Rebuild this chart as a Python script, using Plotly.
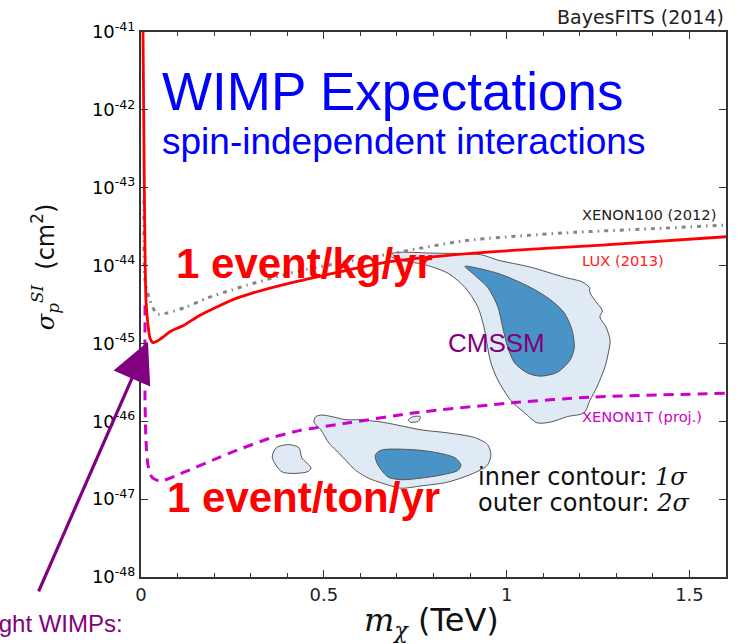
import numpy as np
import plotly.graph_objects as go

# ---- exclusion / projection curves: WIMP mass (TeV) vs log10(sigma_SI / cm^2) ----
lux_mass = [0.0045, 0.0055, 0.0082, 0.0109, 0.0136, 0.019, 0.0245, 0.0326, 0.045, 0.060,
            0.079, 0.120, 0.160, 0.250, 0.300, 0.430, 0.680, 0.860, 1.000, 1.250, 1.600]
lux_log_sigma = [-40.5, -41.0, -42.52, -43.80, -44.44, -44.76, -44.93, -44.99, -44.97, -44.92,
                 -44.85, -44.76, -44.64, -44.44, -44.36, -44.20, -43.95, -43.86, -43.81, -43.74, -43.63]

xenon100_mass = [0.008, 0.011, 0.024, 0.043, 0.071, 0.125, 0.179, 0.250, 0.291, 0.432,
                 0.668, 0.886, 1.158, 1.429, 1.600]
xenon100_log_sigma = [-43.16, -44.19, -44.44, -44.62, -44.61, -44.53, -44.42, -44.31, -44.25, -44.07,
                      -43.86, -43.68, -43.58, -43.52, -43.48]

xenon1t_mass = [0.011, 0.011, 0.0136, 0.019, 0.030, 0.052, 0.125, 0.196, 0.269, 0.351,
                0.432, 0.568, 0.750, 1.022, 1.228, 1.600]
xenon1t_log_sigma = [-44.51, -45.73, -46.24, -46.56, -46.72, -46.77, -46.64, -46.50, -46.36, -46.22,
                     -46.12, -46.02, -45.89, -45.76, -45.69, -45.64]

# ---- CMSSM credible regions (mass in TeV, log10 sigma) ----
upper_2s_mass = [0.677, 0.704, 0.793, 0.929, 0.976, 1.065, 1.158, 1.207, 1.226, 1.228, 1.247,
                 1.262, 1.255, 1.272, 1.283, 1.280, 1.269, 1.247, 1.228, 1.212, 1.166, 1.120,
                 1.084, 1.049, 1.011, 0.976, 0.957, 0.948, 0.940, 0.921, 0.886, 0.840, 0.777,
                 0.700, 0.677]
upper_2s_log_sigma = [-43.86, -43.83, -43.84, -43.86, -43.93, -44.02, -44.15, -44.21, -44.28, -44.35, -44.48,
                      -44.58, -44.66, -44.79, -44.96, -45.08, -45.30, -45.56, -45.73, -45.89, -45.94, -46.01,
                      -46.02, -45.89, -45.73, -45.47, -45.25, -45.05, -44.83, -44.53, -44.28, -44.10, -43.99,
                      -43.92, -43.86]

upper_1s_mass = [0.886, 0.976, 1.065, 1.120, 1.158, 1.179, 1.185, 1.174, 1.139, 1.092, 1.057,
                 1.022, 1.003, 0.989, 0.976, 0.948, 0.902, 0.886]
upper_1s_log_sigma = [-44.01, -44.10, -44.28, -44.44, -44.61, -44.83, -45.05, -45.21, -45.37, -45.42, -45.38,
                      -45.25, -45.05, -44.79, -44.53, -44.28, -44.08, -44.01]

lower_2s_mass = [0.478, 0.473, 0.492, 0.514, 0.533, 0.560, 0.587, 0.622, 0.677, 0.712, 0.766,
                 0.840, 0.913, 0.948, 0.957, 0.948, 0.913, 0.840, 0.766, 0.723, 0.658, 0.595,
                 0.560, 0.522, 0.495, 0.478]
lower_2s_log_sigma = [-45.94, -46.01, -46.11, -46.28, -46.37, -46.50, -46.63, -46.73, -46.82, -46.86, -46.83,
                      -46.78, -46.66, -46.56, -46.43, -46.30, -46.21, -46.15, -46.11, -46.07, -46.01, -45.98,
                      -45.98, -45.94, -45.92, -45.94]

island_2s_mass = [0.359, 0.370, 0.405, 0.432, 0.440, 0.465, 0.454, 0.386, 0.359]
island_2s_log_sigma = [-46.46, -46.34, -46.30, -46.34, -46.47, -46.60, -46.65, -46.65, -46.46]

sliver_2s_mass = [0.731, 0.745, 0.764, 0.758, 0.736, 0.731]
sliver_2s_log_sigma = [-45.98, -45.94, -45.94, -46.00, -46.01, -45.98]

lower_1s_mass = [0.641, 0.658, 0.723, 0.793, 0.859, 0.875, 0.867, 0.821, 0.766, 0.712, 0.677,
                 0.658, 0.644, 0.641]
lower_1s_log_sigma = [-46.43, -46.37, -46.36, -46.39, -46.47, -46.56, -46.63, -46.69, -46.73, -46.75, -46.72,
                      -46.63, -46.52, -46.43]

# ---- axis ticks ----
x_tick_vals = [0, 0.5, 1, 1.5]
x_tick_text = ["0", "0.5", "1", "1.5"]
y_tick_exponents = [-48, -47, -46, -45, -44, -43, -42, -41]

OUTER_FILL = "#dfeaf5"
INNER_FILL = "#4993c6"
EDGE = "#555555"
PURPLE = "#800080"
MAGENTA = "#cc00cc"
AXIS = "#333333"


def sigma(log_values):
    return np.power(10.0, np.asarray(log_values, dtype=float))


fig = go.Figure()

for m, s, fill in [
    (upper_2s_mass, upper_2s_log_sigma, OUTER_FILL),
    (lower_2s_mass, lower_2s_log_sigma, OUTER_FILL),
    (island_2s_mass, island_2s_log_sigma, OUTER_FILL),
    (sliver_2s_mass, sliver_2s_log_sigma, OUTER_FILL),
    (upper_1s_mass, upper_1s_log_sigma, INNER_FILL),
    (lower_1s_mass, lower_1s_log_sigma, INNER_FILL),
]:
    fig.add_trace(go.Scatter(
        x=m, y=sigma(s), mode="lines", fill="toself", fillcolor=fill,
        line=dict(color=EDGE, width=1, shape="spline", smoothing=0.8),
        hoverinfo="skip",
    ))

fig.add_trace(go.Scatter(
    x=xenon100_mass, y=sigma(xenon100_log_sigma), mode="lines",
    line=dict(color="#858585", width=3, dash="4px,5px,1.5px,5px", shape="spline", smoothing=0.6),
    name="XENON100 (2012)",
))
fig.add_trace(go.Scatter(
    x=xenon1t_mass, y=sigma(xenon1t_log_sigma), mode="lines",
    line=dict(color=MAGENTA, width=3, dash="10px,7px", shape="spline", smoothing=0.6),
    name="XENON1T (proj.)",
))
fig.add_trace(go.Scatter(
    x=lux_mass, y=sigma(lux_log_sigma), mode="lines",
    line=dict(color="#ff0000", width=2.8, shape="spline", smoothing=0.6),
    name="LUX (2013)",
))

axis_common = dict(
    showline=True, linecolor=AXIS, linewidth=2, mirror="ticks",
    ticks="inside", ticklen=7, tickwidth=1, tickcolor=AXIS,
    showgrid=False, zeroline=False,
)

fig.update_xaxes(
    range=[0, 1.6], tickmode="array", tickvals=x_tick_vals, ticktext=x_tick_text,
    tickfont=dict(family="DejaVu Sans", size=18, color="#222222"),
    minor=dict(dtick=0.1, ticks="inside", ticklen=4, tickcolor=AXIS, showgrid=False),
    **axis_common,
)
fig.update_yaxes(
    type="log", range=[-48, -41], tickmode="array",
    tickvals=[10.0 ** e for e in y_tick_exponents],
    ticktext=[f"10<sup>{e}</sup>" for e in y_tick_exponents],
    tickfont=dict(family="DejaVu Sans", size=18, color="#000000"),
    **axis_common,
)

# fifth-of-a-decade minor ticks on both vertical edges, via a linear exponent axis
fig.update_layout(yaxis2=dict(
    overlaying="y", anchor="x", side="left", range=[-48, -41], tickmode="linear",
    tick0=-48, dtick=0.2, ticks="inside", ticklen=4, tickwidth=1, tickcolor=AXIS,
    showticklabels=False, showline=False, mirror="ticks", showgrid=False, zeroline=False,
))

text_defaults = dict(xref="paper", yref="paper", showarrow=False,
                     xanchor="left", yanchor="middle")

annotations = [
    dict(text="BayesFITS (2014)", x=1.0, y=1.0, xref="paper", yref="paper", showarrow=False,
         xanchor="right", yanchor="bottom", yshift=2,
         font=dict(family="DejaVu Sans", size=19, color="#222222")),
    dict(text="WIMP Expectations", x=0.0324, y=0.890, **text_defaults,
         font=dict(family="Liberation Sans", size=53, color="#0000ff")),
    dict(text="spin-independent interactions", x=0.0324, y=0.7996, **text_defaults,
         font=dict(family="Liberation Sans", size=37, color="#0000ff")),
    dict(text="<b>1 event/kg/yr</b>", x=0.056, y=0.576, **text_defaults,
         font=dict(family="Liberation Sans", size=42, color="#ff0000")),
    dict(text="<b>1 event/ton/yr</b>", x=0.041, y=0.145, **text_defaults,
         font=dict(family="Liberation Sans", size=42, color="#ff0000")),
    dict(text="CMSSM", x=0.521, y=0.429, **text_defaults,
         font=dict(family="Liberation Sans", size=26, color=PURPLE)),
    dict(text="XENON100 (2012)", x=0.751, y=0.666, **text_defaults,
         font=dict(family="DejaVu Sans", size=14.7, color="#222222")),
    dict(text="LUX (2013)", x=0.751, y=0.580, **text_defaults,
         font=dict(family="DejaVu Sans", size=14.7, color="#ff2020")),
    dict(text="XENON1T (proj.)", x=0.751, y=0.2936, **text_defaults,
         font=dict(family="DejaVu Sans", size=14.7, color=MAGENTA)),
    dict(text='inner contour: <span style="font-family:DejaVu Serif"><i>1σ</i></span>',
         x=0.5724, y=0.1835, **text_defaults,
         font=dict(family="DejaVu Sans", size=24, color="#111111")),
    dict(text='outer contour: <span style="font-family:DejaVu Serif"><i>2σ</i></span>',
         x=0.5724, y=0.1358, **text_defaults,
         font=dict(family="DejaVu Sans", size=24, color="#111111")),
    dict(text='<span style="font-family:DejaVu Serif"><i>σ</i><sub><i>p</i></sub><sup><i>SI</i></sup></span>  (cm<sup>2</sup>)',
         x=-0.1635, y=0.569, xref="paper", yref="paper", showarrow=False, textangle=-90,
         xanchor="center", yanchor="middle",
         font=dict(family="DejaVu Sans", size=24, color="#111111")),
    dict(text='<span style="font-family:DejaVu Serif"><i>m</i><sub><i>χ</i></sub></span> (TeV)',
         x=0.496, y=-0.083, xref="paper", yref="paper", showarrow=False,
         xanchor="center", yanchor="middle",
         font=dict(family="DejaVu Sans", size=32, color="#111111")),
    dict(text="Light WIMPs:", x=-0.0273, y=-0.0855, xref="paper", yref="paper", showarrow=False,
         xanchor="right", yanchor="middle",
         font=dict(family="Liberation Sans", size=24, color=PURPLE)),
    dict(text="", x=0.019, y=np.log10(1.05e-45), xref="x", yref="y",
         showarrow=True, arrowhead=2, arrowsize=2.5, arrowwidth=3.2, arrowcolor=PURPLE,
         ax=-110, ay=251, standoff=0),
]

fig.update_layout(
    width=740, height=644,
    margin=dict(l=141, r=12, t=32, b=67),
    paper_bgcolor="white", plot_bgcolor="white",
    showlegend=False,
    annotations=annotations,
)

fig.write_html("out.html")
